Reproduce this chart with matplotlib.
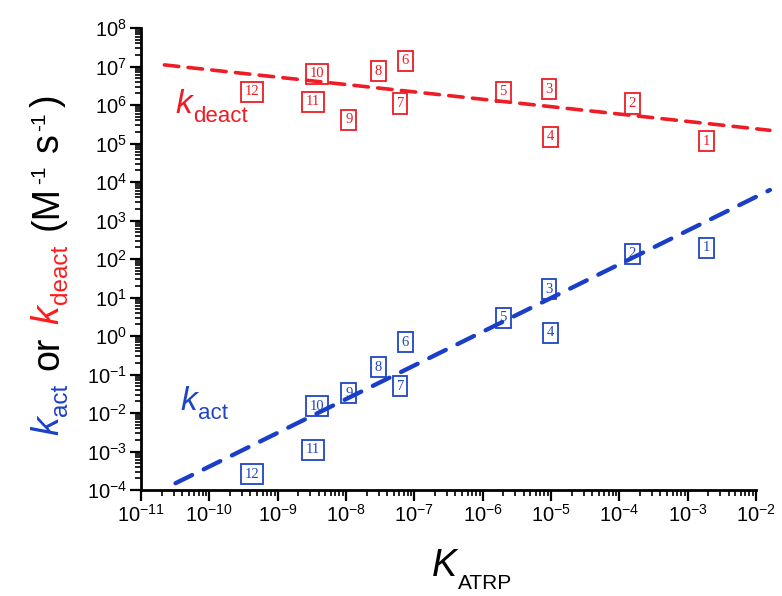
import numpy as np
import matplotlib
matplotlib.use('Agg')
import matplotlib.pyplot as plt
from matplotlib.transforms import IdentityTransform
from matplotlib.ticker import LogLocator, LogFormatterMathtext, NullFormatter

plt.rcParams['font.family'] = 'Liberation Sans'
plt.rcParams['mathtext.fontset'] = 'custom'
plt.rcParams['mathtext.rm'] = 'Liberation Sans'
plt.rcParams['mathtext.it'] = 'Liberation Sans:italic'

# catalyst numbers and values
cat_ids = ['1', '2', '3', '4', '5', '6', '7', '8', '9', '10', '11', '12']
K_atrp = [1.9e-3, 1.55e-4, 9.3e-6, 9.8e-6, 2.0e-6, 7.4e-8, 6.2e-8, 3.0e-8, 1.1e-8, 3.8e-9, 3.3e-9, 4.2e-10]
k_deact = [1.15e5, 1.1e6, 2.6e6, 1.5e5, 2.2e6, 1.4e7, 1.1e6, 7.6e6, 4.1e5, 6.5e6, 1.2e6, 2.2e6]
k_act = [195, 135, 16.6, 1.2, 2.95, 0.69, 0.05, 0.155, 0.033, 0.015, 1.1e-3, 2.6e-4]

# end points of the two dashed fit lines
deact_line_K = [2.2e-11, 1.6e-2]
deact_line_k = [1.1e7, 2.2e5]
act_line_K = [3.2e-11, 1.6e-2]
act_line_k = [1.5e-4, 6.2e3]

red = '#ee1c24'
blue = '#1f45c4'

fig = plt.figure(figsize=(7.82, 5.96), dpi=100)
ax = fig.add_axes([141 / 782, 106 / 596, 615 / 782, 462 / 596])
ax.set_xscale('log')
ax.set_yscale('log')
ax.set_xlim(1e-11, 1e-2)
ax.set_ylim(1e-4, 1e8)

ax.plot(deact_line_K, deact_line_k, color=red, lw=2.6, dashes=(4, 2.6),
        clip_on=False, zorder=3, dash_capstyle='round')
ax.plot(act_line_K, act_line_k, color='#1a3ec8', lw=3.1, dashes=(4.3, 3.0),
        clip_on=False, zorder=3, dash_capstyle='round')

for lab, kx, kd, ka in zip(cat_ids, K_atrp, k_deact, k_act):
    ax.text(kx, kd, lab, color=red, fontsize=10.5, family='Liberation Serif',
            ha='center', va='center', zorder=2,
            bbox=dict(boxstyle='square,pad=0.25', fc='none', ec=red, lw=1.3))
    ax.text(kx, ka, lab, color=blue, fontsize=10.5, family='Liberation Serif',
            ha='center', va='center', zorder=2,
            bbox=dict(boxstyle='square,pad=0.25', fc='none', ec=blue, lw=1.3))

for s in ['top', 'right']:
    ax.spines[s].set_visible(False)
for s in ['left', 'bottom']:
    ax.spines[s].set_linewidth(2)

for axis in [ax.xaxis, ax.yaxis]:
    axis.set_major_locator(LogLocator(base=10, numticks=30))
    axis.set_minor_locator(LogLocator(base=10, subs=np.arange(2, 10), numticks=30))
    axis.set_major_formatter(LogFormatterMathtext())
    axis.set_minor_formatter(NullFormatter())
ax.tick_params(which='major', direction='out', length=8, width=1.6, labelsize=14.5, pad=2)
ax.tick_params(which='minor', direction='out', length=4.5, width=1.2)


def draw_pieces(x0, y0, pieces, rotation=0, center=False):
    renderer = fig.canvas.get_renderer()
    made = []
    total = 0.0
    for txt, size, color, style, shift, gap in pieces:
        t = fig.text(0, 0, txt, fontsize=size, color=color, style=style,
                     ha='left', va='baseline', rotation_mode='anchor',
                     transform=IdentityTransform())
        w = t.get_window_extent(renderer).width
        made.append((t, total, shift))
        total += w + gap
    start = -total / 2 if center else 0.0
    for t, pos, shift in made:
        t.set_rotation(rotation)
        if rotation == 90:
            t.set_position((x0 - shift, y0 + start + pos))
        else:
            t.set_position((x0 + start + pos, y0 + shift))


# y label, reading upward
draw_pieces(58, 596 - 265, [
    ('k', 27, '#1b3fc9', 'italic', 0, 1),
    ('act', 17.5, '#1b3fc9', 'normal', -9, 13),
    ('or', 27, 'black', 'normal', 0, 13),
    ('k', 27, '#ff1a1a', 'italic', 0, 1),
    ('deact', 17.5, '#ff1a1a', 'normal', -9, 15),
    ('(M', 27, 'black', 'normal', 0, 2),
    ('-1', 15, 'black', 'normal', 13, 14),
    ('s', 27, 'black', 'normal', 0, 2),
    ('-1', 15, 'black', 'normal', 13, 5),
    (')', 27, 'black', 'normal', 0, 0),
], rotation=90, center=True)

# labels inside the plot
px, py = ax.transData.transform((10 ** -10.5, 10 ** 5.79))
draw_pieces(px, py, [
    ('k', 24, red, 'italic', 0, 1),
    ('deact', 16, red, 'normal', -9, 0),
])
px, py = ax.transData.transform((10 ** -10.43, 10 ** -1.92))
draw_pieces(px, py, [
    ('k', 24, blue, 'italic', 0, 1),
    ('act', 16, blue, 'normal', -9, 0),
])

# x label
draw_pieces(432, 596 - 576, [
    ('K', 27, 'black', 'italic', 0, 1),
    ('ATRP', 15, 'black', 'normal', -13, 0),
])

fig.savefig('out.png', dpi=100)
